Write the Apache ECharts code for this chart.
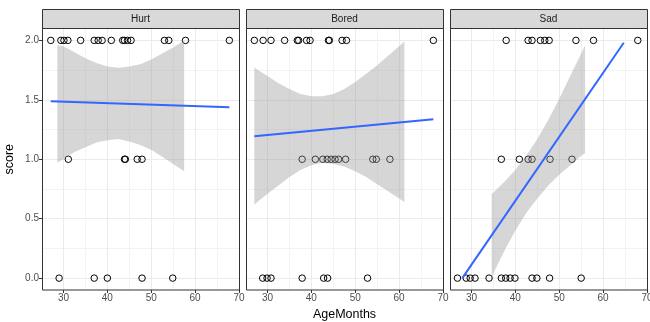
<!DOCTYPE html>
<html>
<head>
<meta charset="utf-8">
<script src="https://cdn.jsdelivr.net/npm/echarts@6/dist/echarts.min.js"></script>
<style>
  html, body { margin: 0; padding: 0; background: #fff; }
  #chart { width: 650px; height: 322px; }
</style>
</head>
<body>
<div id="chart"></div>
<script>
const panels = ['Hurt', 'Bored', 'Sad']
const xTicks = [30, 40, 50, 60, 70]
const xMinor = [35, 45, 55, 65]
const yTicks = [0, 0.5, 1, 1.5, 2]
const yMinor = [0.25, 0.75, 1.25, 1.75]

// AgeMonths of each child, split by score (2 / 1 / 0)
const hurtScore2 = [27.1, 29.4, 30.1, 31.0, 33.9, 37.0, 37.9, 38.8, 40.9, 43.5, 43.9, 44.6, 45.4, 53.0, 54.0, 57.8, 67.8]
const hurtScore1 = [31.1, 43.9, 44.1, 46.8, 47.9]
const hurtScore0 = [29.0, 37.0, 40.0, 47.9, 54.9]

const boredScore2 = [27.0, 29.0, 30.8, 33.9, 36.8, 37.1, 38.9, 39.7, 43.9, 44.1, 47.0, 48.0, 67.8]
const boredScore1 = [37.9, 40.9, 42.6, 43.6, 44.5, 45.4, 46.2, 47.8, 54.0, 54.8, 57.9]
const boredScore0 = [28.9, 29.9, 30.8, 37.9, 42.8, 43.7, 52.8]

const sadScore2 = [37.9, 42.9, 43.8, 45.7, 46.7, 47.7, 53.8, 57.8, 67.9]
const sadScore1 = [36.8, 40.9, 42.9, 43.8, 47.9, 52.9]
const sadScore0 = [26.8, 28.8, 29.7, 30.8, 34.0, 36.8, 37.8, 38.8, 39.9, 43.8, 44.9, 47.8, 55.0]

// lm fit line end points
const hurtFitX = [27.1, 67.8]
const hurtFitY = [1.487, 1.437]
const boredFitX = [27.0, 67.8]
const boredFitY = [1.194, 1.336]
const sadFitX = [27.9, 64.7]
const sadFitY = [0.0, 1.98]

// confidence band (lower / upper)
const hurtBandX = [28.6, 30, 32.5, 35, 37.5, 40, 42.5, 45, 47.5, 50, 52.5, 55, 57.5]
const hurtBandLow = [0.97, 1.00, 1.06, 1.10, 1.14, 1.16, 1.17, 1.15, 1.12, 1.08, 1.02, 0.96, 0.90]
const hurtBandHigh = [1.96, 1.95, 1.90, 1.85, 1.81, 1.78, 1.77, 1.78, 1.80, 1.84, 1.89, 1.94, 2.00]

const boredBandX = [27, 30, 32.5, 35, 37.5, 40, 42.5, 45, 47.5, 50, 52.5, 55, 57.5, 60, 61.2]
const boredBandLow = [0.62, 0.71, 0.78, 0.85, 0.91, 0.95, 0.97, 0.96, 0.94, 0.90, 0.85, 0.79, 0.73, 0.67, 0.64]
const boredBandHigh = [1.77, 1.70, 1.64, 1.59, 1.55, 1.53, 1.53, 1.55, 1.59, 1.65, 1.72, 1.79, 1.87, 1.95, 1.99]

const sadBandX = [34.6, 35, 37.5, 40, 42.5, 45, 47.5, 50, 52.5, 55, 55.9]
const sadBandLow = [0.01, 0.04, 0.23, 0.40, 0.55, 0.67, 0.78, 0.87, 0.95, 1.03, 1.05]
const sadBandHigh = [0.71, 0.72, 0.81, 0.91, 1.03, 1.17, 1.33, 1.51, 1.70, 1.89, 1.96]

const scores = [
  [hurtScore2, hurtScore1, hurtScore0],
  [boredScore2, boredScore1, boredScore0],
  [sadScore2, sadScore1, sadScore0]
]
const fits = [[hurtFitX, hurtFitY], [boredFitX, boredFitY], [sadFitX, sadFitY]]
const bands = [
  [hurtBandX, hurtBandLow, hurtBandHigh],
  [boredBandX, boredBandLow, boredBandHigh],
  [sadBandX, sadBandLow, sadBandHigh]
]

const FONT = '"Liberation Sans", Arial, sans-serif'
const panelLeft = [42, 246, 450]
const panelTop = 28.5
const panelW = 197
const panelH = 261.5
const X_MIN = 25.1, X_MAX = 70
const Y_MIN = -0.1, Y_MAX = 2.1

const chart = echarts.init(document.getElementById('chart'))

const bandItem = (params, api) => {
  if (params.dataIndexInside !== 0) return null
  const n = params.dataInsideLength
  const top = []
  const bottom = []
  for (let i = 0; i < n; i++) {
    top.push(api.coord([api.value(0, i), api.value(2, i)]))
    bottom.unshift(api.coord([api.value(0, i), api.value(1, i)]))
  }
  return {
    type: 'polygon',
    shape: { points: top.concat(bottom) },
    style: { fill: 'rgba(153,153,153,0.4)' }
  }
}

const grids = panelLeft.map(left => ({
  left, top: panelTop, width: panelW, height: panelH, show: false, outerBoundsMode: 'none'
}))

const xAxes = []
const yAxes = []
panels.forEach((name, i) => {
  xAxes.push({
    type: 'value', gridIndex: i, min: X_MIN, max: X_MAX, position: 'bottom',
    name: i === 1 ? 'AgeMonths' : '',
    nameLocation: 'middle', nameGap: 14,
    nameTextStyle: { color: '#000', fontSize: 12.5, fontFamily: FONT },
    axisLine: { show: false, onZero: false },
    axisTick: { show: true, inside: false, length: 3, lineStyle: { color: '#333', width: 1 }, customValues: xTicks },
    axisLabel: { customValues: xTicks, color: '#4d4d4d', fontSize: 10, fontFamily: FONT, margin: 3 },
    splitLine: { show: true, lineStyle: { color: '#ebebeb', width: 1 } }
  })
  yAxes.push({
    type: 'value', gridIndex: i, min: Y_MIN, max: Y_MAX, position: 'left',
    name: i === 0 ? 'score' : '',
    nameLocation: 'middle', nameGap: 26,
    nameTextStyle: { color: '#000', fontSize: 12.5, fontFamily: FONT },
    axisLine: { show: false, onZero: false },
    axisTick: { show: i === 0, inside: false, length: 3, lineStyle: { color: '#333', width: 1 }, customValues: yTicks },
    axisLabel: { show: i === 0, customValues: yTicks, color: '#4d4d4d', fontSize: 10, fontFamily: FONT, margin: 3,
      formatter: v => v.toFixed(1) },
    splitLine: { show: true, lineStyle: { color: '#ebebeb', width: 1 } }
  })
})
// minor grid lines
panels.forEach((name, i) => {
  xAxes.push({
    type: 'value', gridIndex: i, min: X_MIN, max: X_MAX,
    axisLine: { show: false, onZero: false }, axisLabel: { show: false },
    axisTick: { show: false, customValues: xMinor },
    splitLine: { show: true, lineStyle: { color: '#f3f3f3', width: 1 } }
  })
  yAxes.push({
    type: 'value', gridIndex: i, min: Y_MIN, max: Y_MAX,
    axisLine: { show: false, onZero: false }, axisLabel: { show: false },
    axisTick: { show: false, customValues: yMinor },
    splitLine: { show: true, lineStyle: { color: '#f3f3f3', width: 1 } }
  })
})

const series = []
panels.forEach((name, i) => {
  const pts = []
  scores[i].forEach((ages, k) => ages.forEach(a => pts.push([a, 2 - k])))
  series.push({
    type: 'scatter', xAxisIndex: i, yAxisIndex: i, z: 2, silent: true,
    data: pts, symbol: 'circle', symbolSize: 6.5,
    itemStyle: { color: 'rgba(0,0,0,0)', borderColor: '#000', borderWidth: 1, opacity: 1 }
  })
  const [bx, lo, hi] = bands[i]
  series.push({
    type: 'custom', xAxisIndex: i, yAxisIndex: i, z: 3, silent: true,
    data: bx.map((x, j) => [x, lo[j], hi[j]]),
    encode: { x: 0, y: [1, 2] },
    renderItem: bandItem
  })
  const [fx, fy] = fits[i]
  series.push({
    type: 'line', xAxisIndex: i, yAxisIndex: i, z: 4, silent: true,
    data: fx.map((x, j) => [x, fy[j]]),
    symbol: 'none',
    lineStyle: { color: '#3366ff', width: 2 }
  })
})

const graphics = []
panels.forEach((name, i) => {
  const x = panelLeft[i]
  graphics.push({ type: 'rect', z: 100, shape: { x: x + 0.5, y: 9.5, width: panelW, height: panelTop - 9.5 },
    style: { fill: '#d9d9d9', stroke: '#333', lineWidth: 1 } })
  graphics.push({ type: 'text', z: 101, x: x + panelW / 2, y: (9.5 + panelTop) / 2,
    style: { text: name, fill: '#1a1a1a', fontSize: 10, fontFamily: FONT, align: 'center', verticalAlign: 'middle' } })
  graphics.push({ type: 'rect', z: 100, shape: { x: x + 0.5, y: panelTop, width: panelW, height: panelH },
    style: { fill: 'none', stroke: '#333', lineWidth: 1 } })
})

chart.setOption({
  animation: false,
  backgroundColor: '#fff',
  grid: grids,
  xAxis: xAxes,
  yAxis: yAxes,
  series,
  graphic: graphics
})
</script>
</body>
</html>
